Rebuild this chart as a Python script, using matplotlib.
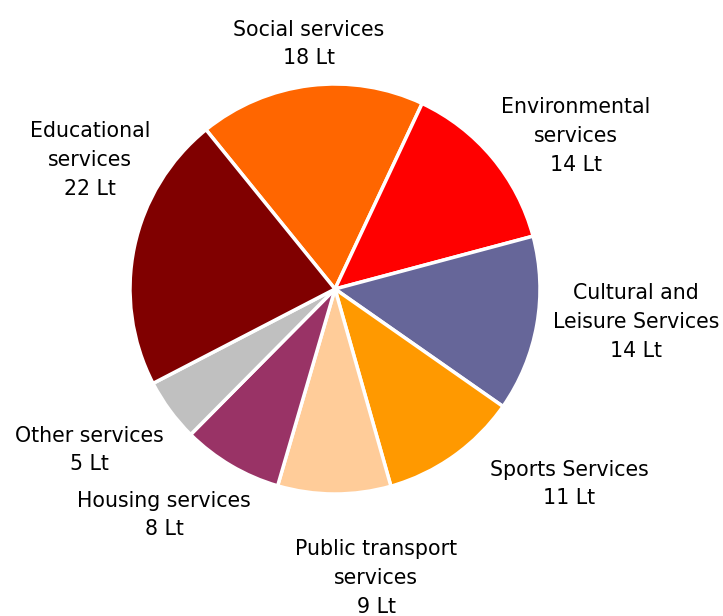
import matplotlib
matplotlib.use('Agg')
import matplotlib.pyplot as plt

# spending by service area, in Lt
services = ['Social services', 'Environmental\nservices', 'Cultural and\nLeisure Services',
            'Sports Services', 'Public transport\nservices', 'Housing services',
            'Other services', 'Educational\nservices']
amounts = [18, 14, 14, 11, 9, 8, 5, 22]
colors = ['#FF6600', '#FF0000', '#666699', '#FF9900', '#FFCC99', '#993366', '#C0C0C0', '#800000']

# label centres, in units of the pie radius
label_pos = [(-0.127, 1.195), (1.176, 0.746), (1.468, -0.161), (1.141, -0.951),
             (0.200, -1.410), (-0.834, -1.102), (-1.200, -0.785), (-1.195, 0.629)]

plt.rcParams['font.family'] = ['DejaVu Sans']

fig = plt.figure(figsize=(7.23, 6.16), dpi=100)
ax = fig.add_axes([0, 0, 1, 1])

ax.pie(amounts, colors=colors, startangle=129, counterclock=False, radius=1.0,
       wedgeprops=dict(edgecolor='white', linewidth=2.5))

for name, val, (x, y) in zip(services, amounts, label_pos):
    ax.text(x, y, name + '\n' + str(val) + ' Lt', ha='center', va='center',
            multialignment='center', fontsize=14.8, linespacing=1.55, color='black')

ax.set_xlim(-335 / 205, (723 - 335) / 205)
ax.set_ylim(-(616 - 289) / 205, 289 / 205)
ax.set_aspect('auto')
ax.axis('off')

plt.savefig('out.png', dpi=100)
